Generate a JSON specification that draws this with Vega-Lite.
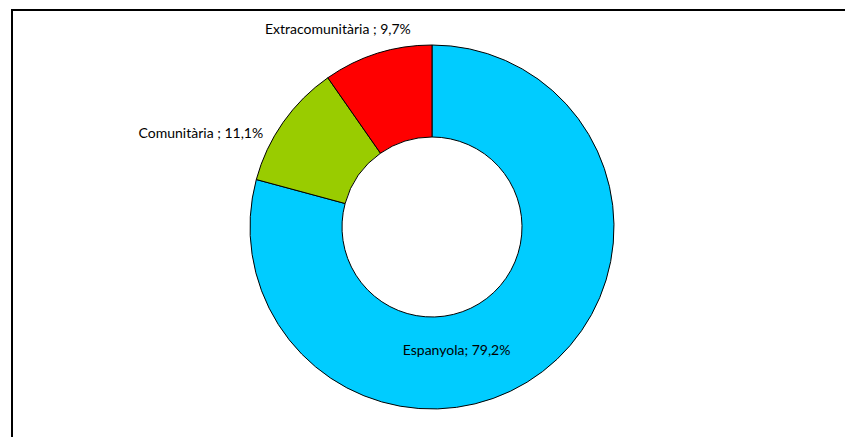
{
  "$schema": "https://vega.github.io/schema/vega-lite/v6.json",
  "autosize": {"type": "none"},
  "padding": {"left": 12, "top": 10, "right": 0, "bottom": 0},
  "width": 840,
  "height": 434,
  "background": "white",
  "view": {"stroke": "#000000", "strokeWidth": 2},
  "config": {"view": {"stroke": "#000000", "strokeWidth": 2}},
  "data": {"values": [
    {"cat": "Espanyola", "pct": 79.2, "label": "Espanyola; 79,2%"},
    {"cat": "Comunitària", "pct": 11.1, "label": "Comunitària ; 11,1%"},
    {"cat": "Extracomunitària", "pct": 9.7, "label": "Extracomunitària ; 9,7%"}
  ]},
  "encoding": {
    "theta": {"field": "pct", "type": "quantitative", "stack": true},
    "order": {"field": "order", "type": "quantitative"}
  },
  "transform": [
    {"window": [{"op": "row_number", "as": "order"}]}
  ],
  "layer": [
    {
      "mark": {"type": "arc", "radius": 182, "radius2": 90, "stroke": "#000000", "strokeWidth": 1},
      "encoding": {
        "color": {"field": "cat", "type": "nominal", "legend": null,
          "scale": {"domain": ["Espanyola", "Comunitària", "Extracomunitària"], "range": ["#00CCFF", "#99CC00", "#FF0000"]}}
      }
    },
    {
      "mark": {"type": "text", "radius": 126, "dx": -52, "dy": 24, "font": "Lato", "fontSize": 14, "color": "#000000", "align": "center", "baseline": "middle"},
      "encoding": {"text": {"condition": {"test": "datum.cat === 'Espanyola'", "field": "label"}, "value": ""}}
    },
    {
      "mark": {"type": "text", "radius": 210, "dx": 3, "dy": 28, "font": "Lato", "fontSize": 14, "color": "#000000", "align": "right", "baseline": "middle"},
      "encoding": {"text": {"condition": {"test": "datum.cat === 'Comunitària'", "field": "label"}, "value": ""}}
    },
    {
      "mark": {"type": "text", "radius": 207, "dx": -32, "dy": 0, "font": "Lato", "fontSize": 14, "color": "#000000", "align": "center", "baseline": "middle"},
      "encoding": {"text": {"condition": {"test": "datum.cat === 'Extracomunitària'", "field": "label"}, "value": ""}}
    }
  ]
}
